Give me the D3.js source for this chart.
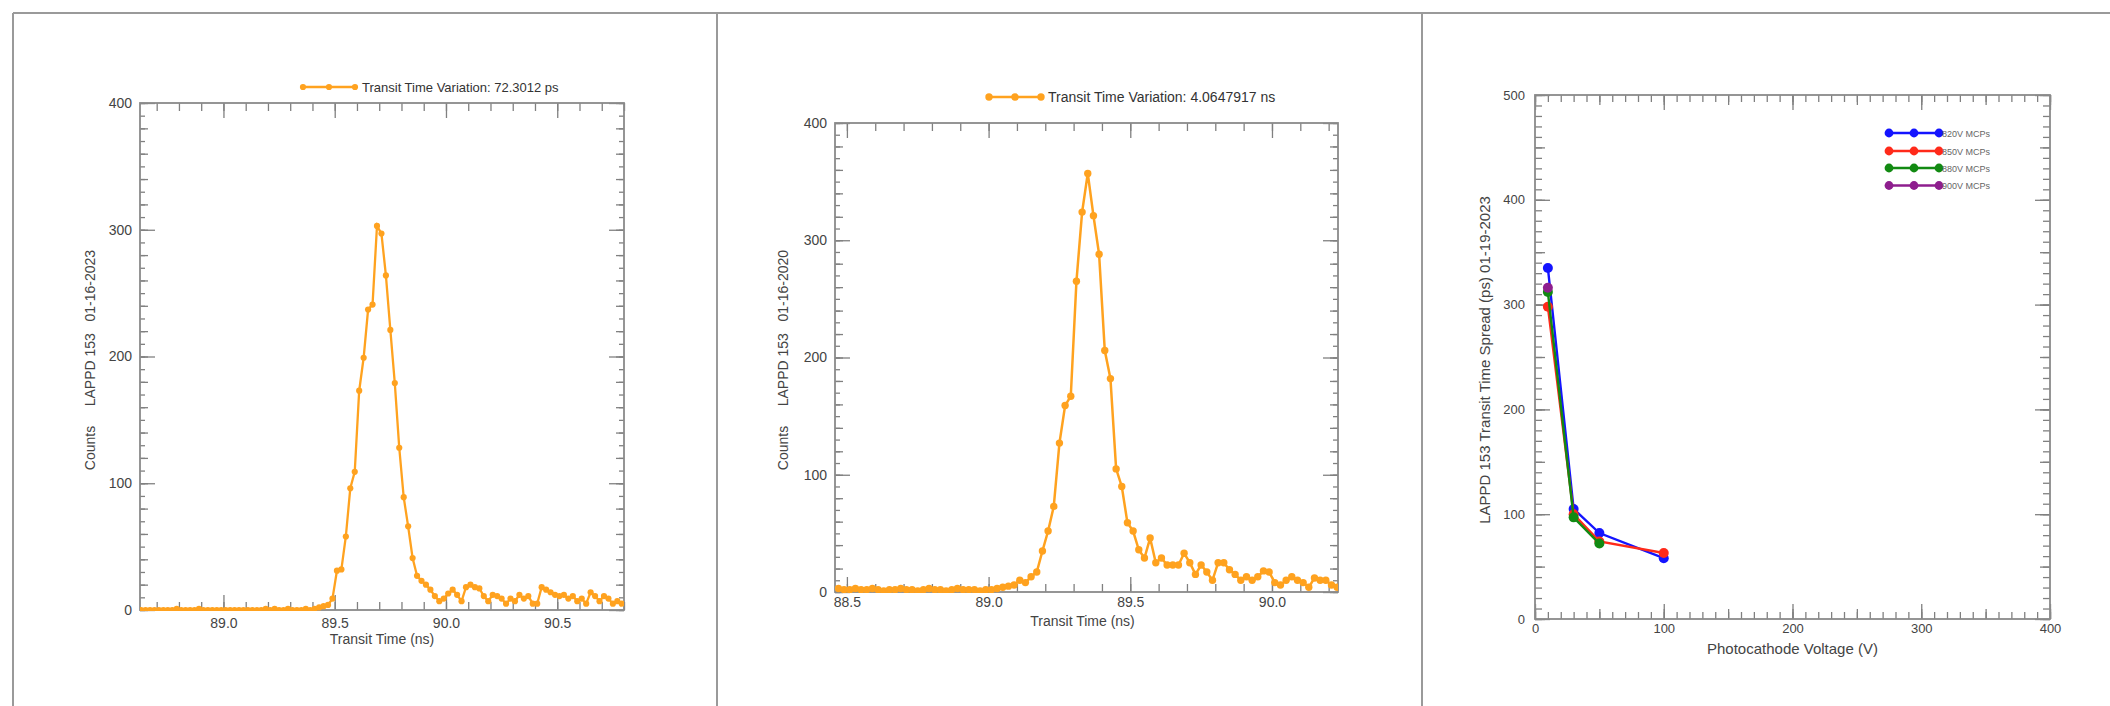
<!DOCTYPE html>
<html>
<head>
<meta charset="utf-8">
<script src="https://cdn.jsdelivr.net/npm/d3@7"></script>
<style>
  html, body { margin: 0; padding: 0; background: #fff; }
  svg { display: block; font-family: "Liberation Sans", Arial, Helvetica, sans-serif; }
  text { white-space: pre; }
</style>
</head>
<body>
<svg id="chart" width="2110" height="706"></svg>
<script>
// ---------------- DATA ----------------
// Panel 1: transit time histogram (ns) and counts
const t1 = [
  88.63,88.65,88.67,88.69,88.71,88.73,88.75,88.77,88.79,88.81,
  88.83,88.85,88.87,88.89,88.91,88.93,88.95,88.97,88.99,89.01,
  89.03,89.05,89.07,89.09,89.11,89.13,89.15,89.17,89.19,89.21,
  89.23,89.25,89.27,89.29,89.31,89.33,89.35,89.37,89.39,89.41,
  89.43,89.45,89.47,89.49,89.51,89.53,89.55,89.57,89.59,89.61,
  89.63,89.65,89.67,89.69,89.71,89.73,89.75,89.77,89.79,89.81,
  89.83,89.85,89.87,89.89,89.91,89.93,89.95,89.97,89.99,90.01,
  90.03,90.05,90.07,90.09,90.11,90.13,90.15,90.17,90.19,90.21,
  90.23,90.25,90.27,90.29,90.31,90.33,90.35,90.37,90.39,90.41,
  90.43,90.45,90.47,90.49,90.51,90.53,90.55,90.57,90.59,90.61,
  90.63,90.65,90.67,90.69,90.71,90.73,90.75,90.77,90.79
];
const c1 = [
  0,0,0,0,0,0,0,0,1,0,
  0,0,0,1,0,0,0,0,0,0,
  0,0,0,0,0,0,0,0,1,0,
  1,0,0,1,0,0,0,1,0,1,
  2,3,4,9,31,32,58,96,109,173,
  199,237,241,303,297,264,221,179,128,89,
  66,41,27,23,20,16,11,7,9,13,
  16,12,7,18,20,18,17,11,7,12,
  11,9,5,9,7,12,9,11,5,5,
  18,16,14,12,11,12,9,11,7,9,
  5,14,11,7,11,9,5,7,5
];
// Panel 2
const t2 = [
  88.47,88.49,88.51,88.53,88.55,88.57,88.59,88.61,88.63,88.65,
  88.67,88.69,88.71,88.73,88.75,88.77,88.79,88.81,88.83,88.85,
  88.87,88.89,88.91,88.93,88.95,88.97,88.99,89.01,89.03,89.05,
  89.07,89.09,89.11,89.13,89.15,89.17,89.19,89.21,89.23,89.25,
  89.27,89.29,89.31,89.33,89.35,89.37,89.39,89.41,89.43,89.45,
  89.47,89.49,89.51,89.53,89.55,89.57,89.59,89.61,89.63,89.65,
  89.67,89.69,89.71,89.73,89.75,89.77,89.79,89.81,89.83,89.85,
  89.87,89.89,89.91,89.93,89.95,89.97,89.99,90.01,90.03,90.05,
  90.07,90.09,90.11,90.13,90.15,90.17,90.19,90.21,90.23
];
const c2 = [
  3,2,2,3,2,2,3,2,1,2,
  2,3,2,2,1,2,3,2,2,1,
  2,3,2,2,2,1,2,2,3,4,
  5,6,10,8,13,17,35,52,73,127,
  159,167,265,324,357,321,288,206,182,105,
  90,59,52,36,29,46,25,29,23,23,
  23,33,25,15,23,17,10,25,25,19,
  15,10,13,10,13,18,17,8,6,10,
  13,10,8,4,12,10,10,6,4
];
// Panel 3: transit time spread vs photocathode voltage
const voltages     = [10, 30, 50, 100];
const seriesNames  = ["820V MCPs", "850V MCPs", "880V MCPs", "900V MCPs"];
const tts820 = [335, 105, 82, 58];
const tts850 = [298, 100, 74, 63];
const tts880 = [312, 97, 72];
const tts900 = [316];

const legend1 = "Transit Time Variation: 72.3012 ps";
const legend2 = "Transit Time Variation: 4.0647917 ns";
const xTitle12 = "Transit Time (ns)";
const yTitle1 = "Counts     LAPPD 153   01-16-2023";
const yTitle2 = "Counts     LAPPD 153   01-16-2020";
const xTitle3 = "Photocathode Voltage (V)";
const yTitle3 = "LAPPD 153 Transit Time Spread (ps) 01-19-2023";

const xTicks1 = [89.0, 89.5, 90.0, 90.5];
const xTicks2 = [88.5, 89.0, 89.5, 90.0];
const yTicks12 = [0, 100, 200, 300, 400];
const xTicks3 = [0, 100, 200, 300, 400];
const yTicks3 = [0, 100, 200, 300, 400, 500];

// ---------------- DRAWING ----------------
const svg = d3.select("#chart");
const AX = "#8a8a8a", TK = "#808080", LB = "#444";
const ORANGE = "#ffa21f";

// Page frame
svg.append("line").attr("x1", 13).attr("x2", 2110).attr("y1", 13).attr("y2", 13).attr("stroke", "#9a9a9a").attr("stroke-width", 2);
[13, 717, 1422].forEach(x => svg.append("line").attr("x1", x).attr("x2", x).attr("y1", 13).attr("y2", 706).attr("stroke", "#9a9a9a").attr("stroke-width", 2));

function range(a, b, s) { const r = []; for (let v = a; v <= b + 1e-9; v += s) r.push(+v.toFixed(6)); return r; }

function frameAndTicks(g, x, y, opt) {
  const [x0, x1] = x.range(), [y1, y0] = y.range();
  const w = x1 - x0, h = y1 - y0;
  function tk(axisFn, scale, vals, len, tr) {
    g.append("g").attr("transform", tr)
      .call(axisFn(scale).tickValues(vals).tickSize(len).tickFormat(""))
      .call(s => s.select(".domain").remove())
      .call(s => s.selectAll("line").attr("stroke", TK).attr("stroke-width", 1.3));
  }
  opt.xLevels.forEach(([vals, len]) => {
    tk(d3.axisBottom, x, vals, -len, `translate(0,${y1})`);
    tk(d3.axisTop, x, vals, -len, `translate(0,${y0})`);
  });
  opt.yLevels.forEach(([vals, len]) => {
    tk(d3.axisLeft, y, vals, -len, `translate(${x0},0)`);
    tk(d3.axisRight, y, vals, -len, `translate(${x1},0)`);
  });
  g.append("rect").attr("x", x0).attr("y", y0).attr("width", w).attr("height", h)
    .attr("fill", "none").attr("stroke", AX).attr("stroke-width", 1.8);
  g.append("g").attr("transform", `translate(0,${y1})`)
    .call(d3.axisBottom(x).tickValues(opt.xLab).tickSize(0).tickPadding(opt.xPad).tickFormat(opt.xFmt))
    .call(s => s.select(".domain").remove())
    .call(s => s.selectAll("text").attr("fill", LB).style("font-size", opt.fs + "px"));
  g.append("g").attr("transform", `translate(${x0},0)`)
    .call(d3.axisLeft(y).tickValues(opt.yLab).tickSize(0).tickPadding(opt.yPad).tickFormat(d3.format("d")))
    .call(s => s.select(".domain").remove())
    .call(s => s.selectAll("text").attr("fill", LB).style("font-size", opt.fs + "px"));
  g.append("text").attr("x", (x0 + x1) / 2 + (opt.xtDx || 0)).attr("y", opt.xtY).attr("text-anchor", "middle")
    .attr("fill", LB).style("font-size", opt.tfs + "px").text(opt.xTitle);
  g.append("text").attr("transform", `translate(${opt.ytX},${opt.ytY}) rotate(-90)`).attr("text-anchor", "middle")
    .attr("fill", LB).style("font-size", opt.tfs + "px").text(opt.yTitle);
}

function histPanel(cfg) {
  const g = svg.append("g");
  const x = d3.scaleLinear().domain(cfg.xDom).range([cfg.l, cfg.r]);
  const y = d3.scaleLinear().domain([0, 400]).range([cfg.b, cfg.tp]);
  frameAndTicks(g, x, y, {
    xLevels: [[range(cfg.xMinor0, cfg.xDom[1], 0.1), 8], [cfg.xTicks, 15]],
    yLevels: [[range(0, 400, 10), 5], [range(0, 400, 20), 8], [yTicks12, 15]],
    xLab: cfg.xTicks, yLab: yTicks12, xFmt: d3.format(".1f"),
    xPad: cfg.xPad, yPad: 8, fs: 14, tfs: 14,
    xTitle: xTitle12, xtY: cfg.xtY, xtDx: cfg.xtDx,
    yTitle: cfg.yTitle, ytX: cfg.ytX, ytY: cfg.ytY
  });
  const pts = cfg.times.map((d, i) => [d, cfg.counts[i]]);
  const clip = "clip" + cfg.id;
  g.append("clipPath").attr("id", clip).append("rect")
    .attr("x", cfg.l).attr("y", cfg.tp - 5).attr("width", cfg.r - cfg.l).attr("height", cfg.b - cfg.tp + 6);
  const dg = g.append("g").attr("clip-path", `url(#${clip})`);
  dg.append("path").datum(pts)
    .attr("d", d3.line().x(d => x(d[0])).y(d => y(d[1])))
    .attr("fill", "none").attr("stroke", ORANGE).attr("stroke-width", cfg.lw);
  dg.selectAll("circle").data(pts).join("circle")
    .attr("cx", d => x(d[0])).attr("cy", d => y(d[1])).attr("r", cfg.mr).attr("fill", ORANGE);
  const lx = cfg.legX, ly = cfg.legY;
  g.append("line").attr("x1", lx).attr("x2", lx + 52).attr("y1", ly).attr("y2", ly)
    .attr("stroke", ORANGE).attr("stroke-width", cfg.lw);
  [0, 26, 52].forEach(o => g.append("circle").attr("cx", lx + o).attr("cy", ly).attr("r", cfg.mr).attr("fill", ORANGE));
  g.append("text").attr("x", lx + 59).attr("y", ly + 5).attr("fill", "#333")
    .style("font-size", cfg.lfs + "px").text(cfg.legend);
}

histPanel({
  id: 1, times: t1, counts: c1, xDom: [88.625, 90.8], xTicks: xTicks1, xMinor0: 88.7,
  l: 140, r: 624, tp: 103, b: 610, xPad: 8, xtY: 644, xtDx: 0,
  yTitle: yTitle1, ytX: 95, ytY: 360,
  legX: 303, legY: 87, legend: legend1, lfs: 13, lw: 2.3, mr: 3.1
});
histPanel({
  id: 2, times: t2, counts: c2, xDom: [88.458, 90.233], xTicks: xTicks2, xMinor0: 88.5,
  l: 835, r: 1338, tp: 123, b: 592, xPad: 5, xtY: 626, xtDx: -4,
  yTitle: yTitle2, ytX: 788, ytY: 360,
  legX: 989, legY: 97, legend: legend2, lfs: 14, lw: 2.5, mr: 3.7
});

// Panel 3
(function () {
  const g = svg.append("g");
  const l = 1535, r = 2050, t = 95, b = 619;
  const x = d3.scaleLinear().domain([0, 400]).range([l, r]);
  const y = d3.scaleLinear().domain([0, 500]).range([b, t]);
  frameAndTicks(g, x, y, {
    xLevels: [[range(0, 400, 10), 7], [range(0, 400, 50), 10], [xTicks3, 15]],
    yLevels: [[range(0, 500, 10), 7], [range(0, 500, 50), 10], [yTicks3, 15]],
    xLab: xTicks3, yLab: yTicks3, xFmt: d3.format("d"),
    xPad: 5, yPad: 10, fs: 13, tfs: 15,
    xTitle: xTitle3, xtY: 654, xtDx: 0,
    yTitle: yTitle3, ytX: 1490, ytY: 360
  });
  const cols = ["#1414ff", "#ff2a1a", "#128a12", "#8e1e8e"];
  const ser = [tts820, tts850, tts880, tts900];
  ser.forEach((vals, k) => {
    const pts = vals.map((v, i) => [voltages[i], v]);
    g.append("path").datum(pts).attr("d", d3.line().x(d => x(d[0])).y(d => y(d[1])))
      .attr("fill", "none").attr("stroke", cols[k]).attr("stroke-width", 2.4);
    g.selectAll(null).data(pts).join("circle").attr("cx", d => x(d[0])).attr("cy", d => y(d[1]))
      .attr("r", 5).attr("fill", cols[k]);
  });
  const ly = [133, 151, 168, 185.5];
  seriesNames.forEach((n, k) => {
    g.append("line").attr("x1", 1889).attr("x2", 1939).attr("y1", ly[k]).attr("y2", ly[k])
      .attr("stroke", cols[k]).attr("stroke-width", 2.4);
    [1889, 1914, 1939].forEach(cx => g.append("circle").attr("cx", cx).attr("cy", ly[k]).attr("r", 4.4).attr("fill", cols[k]));
    g.append("text").attr("x", 1942).attr("y", ly[k] + 3.5).attr("fill", "#666").style("font-size", "9px").text(n);
  });
})();
</script>
</body>
</html>
